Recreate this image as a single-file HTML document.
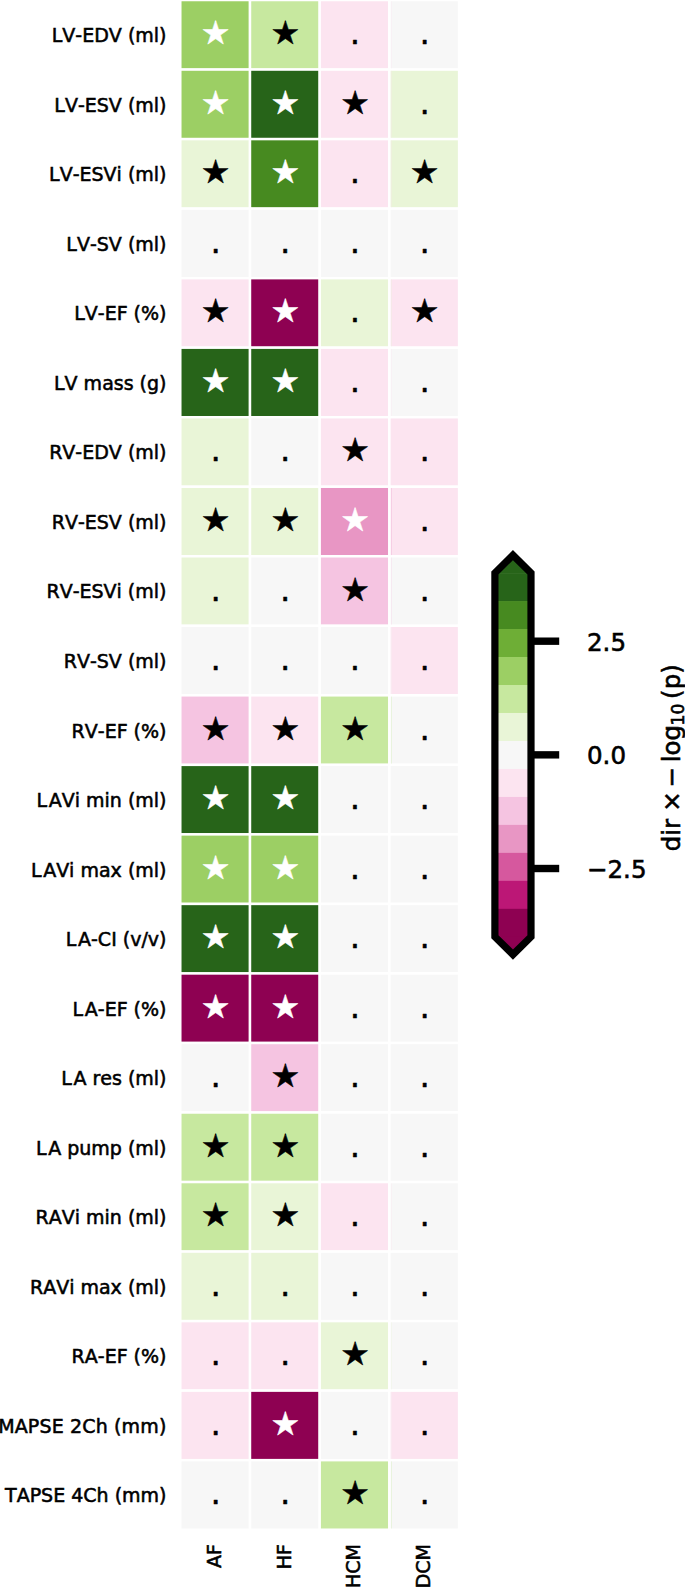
<!DOCTYPE html>
<html lang="en">
<head>
<meta charset="utf-8">
<title>Heatmap</title>
<style>
html,body{margin:0;padding:0;background:#fff;}
body{width:685px;height:1587px;overflow:hidden;}
svg{display:block;font-kerning:none;font-family:"DejaVu Sans","Liberation Sans",sans-serif;}
.yl{font-size:19.00px;text-anchor:end;fill:#000;stroke:#000;stroke-width:0.55px;}
.xl{font-size:19.00px;text-anchor:end;fill:#000;stroke:#000;stroke-width:0.55px;}
.an{font-size:32.60px;text-anchor:middle;stroke-width:0.45px;stroke-linejoin:round;}
.cb{font-size:24.50px;fill:#000;stroke:#000;stroke-width:0.6px;}
</style>
</head>
<body>
<svg width="685" height="1587" viewBox="0 0 685 1587">
<rect x="0" y="0" width="685" height="1587" fill="#ffffff"/>
<g stroke="#ffffff" stroke-width="2.45">
<rect x="180.30" y="0.04" width="69.70" height="69.53" fill="#9ccf64"/>
<rect x="250.00" y="0.04" width="69.70" height="69.53" fill="#c7e89f"/>
<rect x="319.70" y="0.04" width="69.70" height="69.53" fill="#fce4f0"/>
<rect x="389.40" y="0.04" width="69.70" height="69.53" fill="#f7f7f7"/>
<rect x="180.30" y="69.57" width="69.70" height="69.53" fill="#9ccf64"/>
<rect x="250.00" y="69.57" width="69.70" height="69.53" fill="#276419"/>
<rect x="319.70" y="69.57" width="69.70" height="69.53" fill="#fce4f0"/>
<rect x="389.40" y="69.57" width="69.70" height="69.53" fill="#e9f5d7"/>
<rect x="180.30" y="139.10" width="69.70" height="69.53" fill="#e9f5d7"/>
<rect x="250.00" y="139.10" width="69.70" height="69.53" fill="#478a20"/>
<rect x="319.70" y="139.10" width="69.70" height="69.53" fill="#fce4f0"/>
<rect x="389.40" y="139.10" width="69.70" height="69.53" fill="#e9f5d7"/>
<rect x="180.30" y="208.63" width="69.70" height="69.53" fill="#f7f7f7"/>
<rect x="250.00" y="208.63" width="69.70" height="69.53" fill="#f7f7f7"/>
<rect x="319.70" y="208.63" width="69.70" height="69.53" fill="#f7f7f7"/>
<rect x="389.40" y="208.63" width="69.70" height="69.53" fill="#f7f7f7"/>
<rect x="180.30" y="278.16" width="69.70" height="69.53" fill="#fce4f0"/>
<rect x="250.00" y="278.16" width="69.70" height="69.53" fill="#8e0152"/>
<rect x="319.70" y="278.16" width="69.70" height="69.53" fill="#e9f5d7"/>
<rect x="389.40" y="278.16" width="69.70" height="69.53" fill="#fce4f0"/>
<rect x="180.30" y="347.69" width="69.70" height="69.53" fill="#276419"/>
<rect x="250.00" y="347.69" width="69.70" height="69.53" fill="#276419"/>
<rect x="319.70" y="347.69" width="69.70" height="69.53" fill="#fce4f0"/>
<rect x="389.40" y="347.69" width="69.70" height="69.53" fill="#f7f7f7"/>
<rect x="180.30" y="417.22" width="69.70" height="69.53" fill="#e9f5d7"/>
<rect x="250.00" y="417.22" width="69.70" height="69.53" fill="#f7f7f7"/>
<rect x="319.70" y="417.22" width="69.70" height="69.53" fill="#fce4f0"/>
<rect x="389.40" y="417.22" width="69.70" height="69.53" fill="#fce4f0"/>
<rect x="180.30" y="486.75" width="69.70" height="69.53" fill="#e9f5d7"/>
<rect x="250.00" y="486.75" width="69.70" height="69.53" fill="#e9f5d7"/>
<rect x="319.70" y="486.75" width="69.70" height="69.53" fill="#e896c4"/>
<rect x="389.40" y="486.75" width="69.70" height="69.53" fill="#fce4f0"/>
<rect x="180.30" y="556.28" width="69.70" height="69.53" fill="#e9f5d7"/>
<rect x="250.00" y="556.28" width="69.70" height="69.53" fill="#f7f7f7"/>
<rect x="319.70" y="556.28" width="69.70" height="69.53" fill="#f5c4e1"/>
<rect x="389.40" y="556.28" width="69.70" height="69.53" fill="#f7f7f7"/>
<rect x="180.30" y="625.81" width="69.70" height="69.53" fill="#f7f7f7"/>
<rect x="250.00" y="625.81" width="69.70" height="69.53" fill="#f7f7f7"/>
<rect x="319.70" y="625.81" width="69.70" height="69.53" fill="#f7f7f7"/>
<rect x="389.40" y="625.81" width="69.70" height="69.53" fill="#fce4f0"/>
<rect x="180.30" y="695.34" width="69.70" height="69.53" fill="#f5c4e1"/>
<rect x="250.00" y="695.34" width="69.70" height="69.53" fill="#fce4f0"/>
<rect x="319.70" y="695.34" width="69.70" height="69.53" fill="#c7e89f"/>
<rect x="389.40" y="695.34" width="69.70" height="69.53" fill="#f7f7f7"/>
<rect x="180.30" y="764.87" width="69.70" height="69.53" fill="#276419"/>
<rect x="250.00" y="764.87" width="69.70" height="69.53" fill="#276419"/>
<rect x="319.70" y="764.87" width="69.70" height="69.53" fill="#f7f7f7"/>
<rect x="389.40" y="764.87" width="69.70" height="69.53" fill="#f7f7f7"/>
<rect x="180.30" y="834.40" width="69.70" height="69.53" fill="#9ccf64"/>
<rect x="250.00" y="834.40" width="69.70" height="69.53" fill="#9ccf64"/>
<rect x="319.70" y="834.40" width="69.70" height="69.53" fill="#f7f7f7"/>
<rect x="389.40" y="834.40" width="69.70" height="69.53" fill="#f7f7f7"/>
<rect x="180.30" y="903.93" width="69.70" height="69.53" fill="#276419"/>
<rect x="250.00" y="903.93" width="69.70" height="69.53" fill="#276419"/>
<rect x="319.70" y="903.93" width="69.70" height="69.53" fill="#f7f7f7"/>
<rect x="389.40" y="903.93" width="69.70" height="69.53" fill="#f7f7f7"/>
<rect x="180.30" y="973.46" width="69.70" height="69.53" fill="#8e0152"/>
<rect x="250.00" y="973.46" width="69.70" height="69.53" fill="#8e0152"/>
<rect x="319.70" y="973.46" width="69.70" height="69.53" fill="#f7f7f7"/>
<rect x="389.40" y="973.46" width="69.70" height="69.53" fill="#f7f7f7"/>
<rect x="180.30" y="1042.99" width="69.70" height="69.53" fill="#f7f7f7"/>
<rect x="250.00" y="1042.99" width="69.70" height="69.53" fill="#f5c4e1"/>
<rect x="319.70" y="1042.99" width="69.70" height="69.53" fill="#f7f7f7"/>
<rect x="389.40" y="1042.99" width="69.70" height="69.53" fill="#f7f7f7"/>
<rect x="180.30" y="1112.52" width="69.70" height="69.53" fill="#c7e89f"/>
<rect x="250.00" y="1112.52" width="69.70" height="69.53" fill="#c7e89f"/>
<rect x="319.70" y="1112.52" width="69.70" height="69.53" fill="#f7f7f7"/>
<rect x="389.40" y="1112.52" width="69.70" height="69.53" fill="#f7f7f7"/>
<rect x="180.30" y="1182.05" width="69.70" height="69.53" fill="#c7e89f"/>
<rect x="250.00" y="1182.05" width="69.70" height="69.53" fill="#e9f5d7"/>
<rect x="319.70" y="1182.05" width="69.70" height="69.53" fill="#fce4f0"/>
<rect x="389.40" y="1182.05" width="69.70" height="69.53" fill="#f7f7f7"/>
<rect x="180.30" y="1251.58" width="69.70" height="69.53" fill="#e9f5d7"/>
<rect x="250.00" y="1251.58" width="69.70" height="69.53" fill="#e9f5d7"/>
<rect x="319.70" y="1251.58" width="69.70" height="69.53" fill="#f7f7f7"/>
<rect x="389.40" y="1251.58" width="69.70" height="69.53" fill="#f7f7f7"/>
<rect x="180.30" y="1321.11" width="69.70" height="69.53" fill="#fce4f0"/>
<rect x="250.00" y="1321.11" width="69.70" height="69.53" fill="#fce4f0"/>
<rect x="319.70" y="1321.11" width="69.70" height="69.53" fill="#e9f5d7"/>
<rect x="389.40" y="1321.11" width="69.70" height="69.53" fill="#f7f7f7"/>
<rect x="180.30" y="1390.64" width="69.70" height="69.53" fill="#fce4f0"/>
<rect x="250.00" y="1390.64" width="69.70" height="69.53" fill="#8e0152"/>
<rect x="319.70" y="1390.64" width="69.70" height="69.53" fill="#f7f7f7"/>
<rect x="389.40" y="1390.64" width="69.70" height="69.53" fill="#fce4f0"/>
<rect x="180.30" y="1460.17" width="69.70" height="69.53" fill="#f7f7f7"/>
<rect x="250.00" y="1460.17" width="69.70" height="69.53" fill="#f7f7f7"/>
<rect x="319.70" y="1460.17" width="69.70" height="69.53" fill="#c7e89f"/>
<rect x="389.40" y="1460.17" width="69.70" height="69.53" fill="#f7f7f7"/>
</g>
<g opacity="0.3">
<rect x="391.00" y="1.27" width="0.90" height="67.08" fill="#fce4f0"/>
<rect x="391.00" y="70.80" width="0.90" height="67.08" fill="#fce4f0"/>
<rect x="391.00" y="140.32" width="0.90" height="67.08" fill="#fce4f0"/>
<rect x="391.00" y="279.39" width="0.90" height="67.08" fill="#e9f5d7"/>
<rect x="391.00" y="348.92" width="0.90" height="67.08" fill="#fce4f0"/>
<rect x="391.00" y="487.98" width="0.90" height="67.08" fill="#e896c4"/>
<rect x="391.00" y="557.50" width="0.90" height="67.08" fill="#f5c4e1"/>
<rect x="391.00" y="627.03" width="0.90" height="67.08" fill="#f7f7f7"/>
<rect x="391.00" y="696.56" width="0.90" height="67.08" fill="#c7e89f"/>
<rect x="391.00" y="1183.27" width="0.90" height="67.08" fill="#fce4f0"/>
<rect x="391.00" y="1322.33" width="0.90" height="67.08" fill="#e9f5d7"/>
<rect x="391.00" y="1391.86" width="0.90" height="67.08" fill="#f7f7f7"/>
<rect x="391.00" y="1461.39" width="0.90" height="67.08" fill="#c7e89f"/>
</g>
<g class="an">
<text x="215.60" y="44.30" fill="#ffffff" stroke="#ffffff">★</text>
<text x="285.30" y="44.30" fill="#000000" stroke="#000000">★</text>
<text x="355.00" y="44.30" fill="#000000" stroke="#000000">.</text>
<text x="424.70" y="44.30" fill="#000000" stroke="#000000">.</text>
<text x="215.60" y="113.84" fill="#ffffff" stroke="#ffffff">★</text>
<text x="285.30" y="113.84" fill="#ffffff" stroke="#ffffff">★</text>
<text x="355.00" y="113.84" fill="#000000" stroke="#000000">★</text>
<text x="424.70" y="113.84" fill="#000000" stroke="#000000">.</text>
<text x="215.60" y="183.36" fill="#000000" stroke="#000000">★</text>
<text x="285.30" y="183.36" fill="#ffffff" stroke="#ffffff">★</text>
<text x="355.00" y="183.36" fill="#000000" stroke="#000000">.</text>
<text x="424.70" y="183.36" fill="#000000" stroke="#000000">★</text>
<text x="215.60" y="252.90" fill="#000000" stroke="#000000">.</text>
<text x="285.30" y="252.90" fill="#000000" stroke="#000000">.</text>
<text x="355.00" y="252.90" fill="#000000" stroke="#000000">.</text>
<text x="424.70" y="252.90" fill="#000000" stroke="#000000">.</text>
<text x="215.60" y="322.43" fill="#000000" stroke="#000000">★</text>
<text x="285.30" y="322.43" fill="#ffffff" stroke="#ffffff">★</text>
<text x="355.00" y="322.43" fill="#000000" stroke="#000000">.</text>
<text x="424.70" y="322.43" fill="#000000" stroke="#000000">★</text>
<text x="215.60" y="391.96" fill="#ffffff" stroke="#ffffff">★</text>
<text x="285.30" y="391.96" fill="#ffffff" stroke="#ffffff">★</text>
<text x="355.00" y="391.96" fill="#000000" stroke="#000000">.</text>
<text x="424.70" y="391.96" fill="#000000" stroke="#000000">.</text>
<text x="215.60" y="461.49" fill="#000000" stroke="#000000">.</text>
<text x="285.30" y="461.49" fill="#000000" stroke="#000000">.</text>
<text x="355.00" y="461.49" fill="#000000" stroke="#000000">★</text>
<text x="424.70" y="461.49" fill="#000000" stroke="#000000">.</text>
<text x="215.60" y="531.01" fill="#000000" stroke="#000000">★</text>
<text x="285.30" y="531.01" fill="#000000" stroke="#000000">★</text>
<text x="355.00" y="531.01" fill="#ffffff" stroke="#ffffff">★</text>
<text x="424.70" y="531.01" fill="#000000" stroke="#000000">.</text>
<text x="215.60" y="600.54" fill="#000000" stroke="#000000">.</text>
<text x="285.30" y="600.54" fill="#000000" stroke="#000000">.</text>
<text x="355.00" y="600.54" fill="#000000" stroke="#000000">★</text>
<text x="424.70" y="600.54" fill="#000000" stroke="#000000">.</text>
<text x="215.60" y="670.07" fill="#000000" stroke="#000000">.</text>
<text x="285.30" y="670.07" fill="#000000" stroke="#000000">.</text>
<text x="355.00" y="670.07" fill="#000000" stroke="#000000">.</text>
<text x="424.70" y="670.07" fill="#000000" stroke="#000000">.</text>
<text x="215.60" y="739.61" fill="#000000" stroke="#000000">★</text>
<text x="285.30" y="739.61" fill="#000000" stroke="#000000">★</text>
<text x="355.00" y="739.61" fill="#000000" stroke="#000000">★</text>
<text x="424.70" y="739.61" fill="#000000" stroke="#000000">.</text>
<text x="215.60" y="809.13" fill="#ffffff" stroke="#ffffff">★</text>
<text x="285.30" y="809.13" fill="#ffffff" stroke="#ffffff">★</text>
<text x="355.00" y="809.13" fill="#000000" stroke="#000000">.</text>
<text x="424.70" y="809.13" fill="#000000" stroke="#000000">.</text>
<text x="215.60" y="878.66" fill="#ffffff" stroke="#ffffff">★</text>
<text x="285.30" y="878.66" fill="#ffffff" stroke="#ffffff">★</text>
<text x="355.00" y="878.66" fill="#000000" stroke="#000000">.</text>
<text x="424.70" y="878.66" fill="#000000" stroke="#000000">.</text>
<text x="215.60" y="948.19" fill="#ffffff" stroke="#ffffff">★</text>
<text x="285.30" y="948.19" fill="#ffffff" stroke="#ffffff">★</text>
<text x="355.00" y="948.19" fill="#000000" stroke="#000000">.</text>
<text x="424.70" y="948.19" fill="#000000" stroke="#000000">.</text>
<text x="215.60" y="1017.73" fill="#ffffff" stroke="#ffffff">★</text>
<text x="285.30" y="1017.73" fill="#ffffff" stroke="#ffffff">★</text>
<text x="355.00" y="1017.73" fill="#000000" stroke="#000000">.</text>
<text x="424.70" y="1017.73" fill="#000000" stroke="#000000">.</text>
<text x="215.60" y="1087.25" fill="#000000" stroke="#000000">.</text>
<text x="285.30" y="1087.25" fill="#000000" stroke="#000000">★</text>
<text x="355.00" y="1087.25" fill="#000000" stroke="#000000">.</text>
<text x="424.70" y="1087.25" fill="#000000" stroke="#000000">.</text>
<text x="215.60" y="1156.79" fill="#000000" stroke="#000000">★</text>
<text x="285.30" y="1156.79" fill="#000000" stroke="#000000">★</text>
<text x="355.00" y="1156.79" fill="#000000" stroke="#000000">.</text>
<text x="424.70" y="1156.79" fill="#000000" stroke="#000000">.</text>
<text x="215.60" y="1226.32" fill="#000000" stroke="#000000">★</text>
<text x="285.30" y="1226.32" fill="#000000" stroke="#000000">★</text>
<text x="355.00" y="1226.32" fill="#000000" stroke="#000000">.</text>
<text x="424.70" y="1226.32" fill="#000000" stroke="#000000">.</text>
<text x="215.60" y="1295.85" fill="#000000" stroke="#000000">.</text>
<text x="285.30" y="1295.85" fill="#000000" stroke="#000000">.</text>
<text x="355.00" y="1295.85" fill="#000000" stroke="#000000">.</text>
<text x="424.70" y="1295.85" fill="#000000" stroke="#000000">.</text>
<text x="215.60" y="1365.38" fill="#000000" stroke="#000000">.</text>
<text x="285.30" y="1365.38" fill="#000000" stroke="#000000">.</text>
<text x="355.00" y="1365.38" fill="#000000" stroke="#000000">★</text>
<text x="424.70" y="1365.38" fill="#000000" stroke="#000000">.</text>
<text x="215.60" y="1434.90" fill="#000000" stroke="#000000">.</text>
<text x="285.30" y="1434.90" fill="#ffffff" stroke="#ffffff">★</text>
<text x="355.00" y="1434.90" fill="#000000" stroke="#000000">.</text>
<text x="424.70" y="1434.90" fill="#000000" stroke="#000000">.</text>
<text x="215.60" y="1504.43" fill="#000000" stroke="#000000">.</text>
<text x="285.30" y="1504.43" fill="#000000" stroke="#000000">.</text>
<text x="355.00" y="1504.43" fill="#000000" stroke="#000000">★</text>
<text x="424.70" y="1504.43" fill="#000000" stroke="#000000">.</text>
</g>
<g class="yl">
<text x="166.50" y="42.20">LV-EDV (ml)</text>
<text x="166.50" y="111.74">LV-ESV (ml)</text>
<text x="166.50" y="181.26">LV-ESVi (ml)</text>
<text x="166.50" y="250.80">LV-SV (ml)</text>
<text x="166.50" y="320.32">LV-EF (%)</text>
<text x="166.50" y="389.86">LV mass (g)</text>
<text x="166.50" y="459.38">RV-EDV (ml)</text>
<text x="166.50" y="528.91">RV-ESV (ml)</text>
<text x="166.50" y="598.44">RV-ESVi (ml)</text>
<text x="166.50" y="667.97">RV-SV (ml)</text>
<text x="166.50" y="737.50">RV-EF (%)</text>
<text x="166.50" y="807.03">L<tspan dx="1.6">A</tspan>Vi min (ml)</text>
<text x="166.50" y="876.56">L<tspan dx="1.6">A</tspan>Vi max (ml)</text>
<text x="166.50" y="946.09">L<tspan dx="1.6">A</tspan>-CI (v/v)</text>
<text x="166.50" y="1015.62">L<tspan dx="1.6">A</tspan>-EF (%)</text>
<text x="166.50" y="1085.15">L<tspan dx="1.6">A</tspan> res (ml)</text>
<text x="166.50" y="1154.69">L<tspan dx="1.6">A</tspan> pump (ml)</text>
<text x="166.50" y="1224.22">RAVi min (ml)</text>
<text x="166.50" y="1293.75">RAVi max (ml)</text>
<text x="166.50" y="1363.28">RA-EF (%)</text>
<text x="166.50" y="1432.81" letter-spacing="0.15">MAPSE 2Ch (mm)</text>
<text x="166.50" y="1502.34">TAPSE 4Ch (mm)</text>
</g>
<g class="xl">
<text transform="translate(221.05,1544.00) rotate(-90)">AF</text>
<text transform="translate(290.75,1544.00) rotate(-90)">HF</text>
<text transform="translate(360.45,1544.00) rotate(-90)">HCM</text>
<text transform="translate(430.15,1544.00) rotate(-90)">DCM</text>
</g>
<g>
<rect x="494.90" y="573.10" width="36.10" height="28.58" fill="#276419"/>
<rect x="494.90" y="601.08" width="36.10" height="28.58" fill="#478a20"/>
<rect x="494.90" y="629.05" width="36.10" height="28.58" fill="#6eae36"/>
<rect x="494.90" y="657.03" width="36.10" height="28.58" fill="#9ccf64"/>
<rect x="494.90" y="685.01" width="36.10" height="28.58" fill="#c7e89f"/>
<rect x="494.90" y="712.98" width="36.10" height="28.58" fill="#e9f5d7"/>
<rect x="494.90" y="740.96" width="36.10" height="28.58" fill="#f7f7f7"/>
<rect x="494.90" y="768.94" width="36.10" height="28.58" fill="#fce4f0"/>
<rect x="494.90" y="796.92" width="36.10" height="28.58" fill="#f5c4e1"/>
<rect x="494.90" y="824.89" width="36.10" height="28.58" fill="#e896c4"/>
<rect x="494.90" y="852.87" width="36.10" height="28.58" fill="#d6589e"/>
<rect x="494.90" y="880.85" width="36.10" height="28.58" fill="#bc1776"/>
<rect x="494.90" y="908.82" width="36.10" height="28.58" fill="#8e0152"/>
<polygon points="494.90,573.50 512.95,555.10 531.00,573.50" fill="#276419"/>
<polygon points="494.90,936.20 512.95,954.60 531.00,936.20" fill="#8e0152"/>
<path d="M494.90 573.00 L512.95 555.10 L531.00 573.00 L531.00 936.70 L512.95 954.60 L494.90 936.70 Z" fill="none" stroke="#000" stroke-width="7.20" stroke-linejoin="miter" stroke-miterlimit="10"/>
<line x1="531.00" y1="641.19" x2="559.20" y2="641.19" stroke="#000" stroke-width="7.40"/>
<text class="cb" x="587.00" y="650.79">2.5</text>
<line x1="531.00" y1="754.85" x2="559.20" y2="754.85" stroke="#000" stroke-width="7.40"/>
<text class="cb" x="587.00" y="764.45">0.0</text>
<line x1="531.00" y1="868.51" x2="559.20" y2="868.51" stroke="#000" stroke-width="7.40"/>
<text class="cb" x="587.00" y="878.11">−2.5</text>
</g>
<text class="cb" style="font-size:24.50px" transform="translate(679.80,0) rotate(-90)"><tspan x="-851.35" y="0.00">dir</tspan><tspan x="-811.86" y="0.00">×</tspan><tspan x="-787.45" y="0.00">−</tspan><tspan x="-762.31" y="0.00">log</tspan><tspan x="-725.49" y="4.10" font-size="17.15px">10</tspan><tspan x="-698.90" y="0.00">(p)</tspan></text>
</svg>
</body>
</html>
